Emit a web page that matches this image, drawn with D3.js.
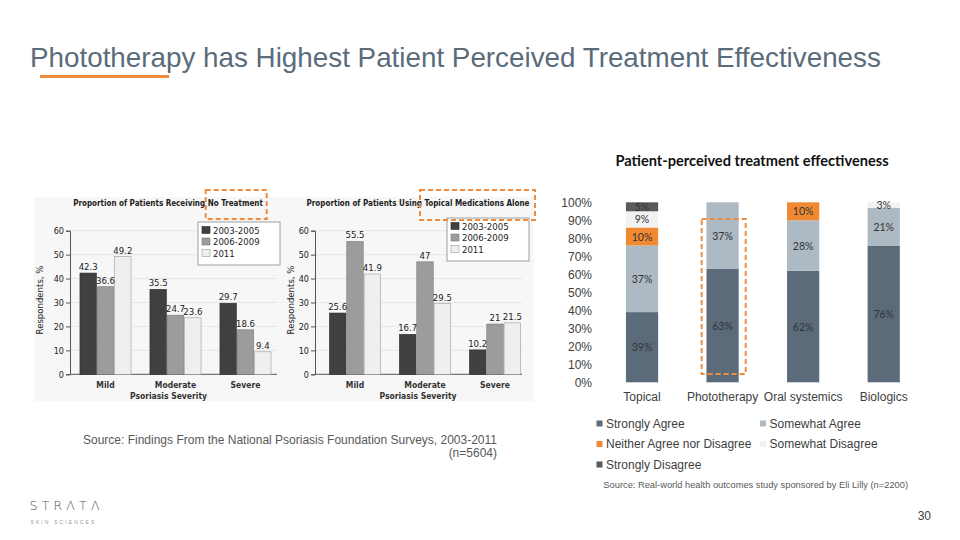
<!DOCTYPE html>
<html>
<head>
<meta charset="utf-8">
<script src="https://cdn.jsdelivr.net/npm/d3@7"></script>
<style>
  body { margin: 0; background: #fff; }
  svg { display: block; }
</style>
</head>
<body>
<svg id="slide" width="960" height="540"></svg>
<script>
// left panel data (NPF surveys)
const severities = ["Mild", "Moderate", "Severe"];
const periods = ["2003-2005", "2006-2009", "2011"];
const noTreatment = [
  [42.3, 36.6, 49.2],
  [35.5, 24.7, 23.6],
  [29.7, 18.6, 9.4]
];
const topicalAlone = [
  [25.6, 55.5, 41.9],
  [16.7, 47, 29.5],
  [10.2, 21, 21.5]
];
const leftTicks = [0, 10, 20, 30, 40, 50, 60];

// right chart data
const treatments = ["Topical", "Phototherapy", "Oral systemics", "Biologics"];
const answers = ["Strongly Agree", "Somewhat Agree", "Neither Agree nor Disagree", "Somewhat Disagree", "Strongly Disagree"];
const stronglyAgree = [0.39, 0.63, 0.62, 0.76];
const somewhatAgree = [0.37, 0.37, 0.28, 0.21];
const neither = [0.10, 0, 0.10, 0];
const somewhatDisagree = [0.09, 0, 0, 0.03];
const stronglyDisagree = [0.05, 0, 0, 0];
const pctTicks = [0, 0.1, 0.2, 0.3, 0.4, 0.5, 0.6, 0.7, 0.8, 0.9, 1];

const svg = d3.select("#slide");
const orange = "#ed8b3f";
const narrow = "'Liberation Sans Narrow', 'DejaVu Sans Condensed', 'Liberation Sans', sans-serif";
const arial = "'Liberation Sans', Arial, sans-serif";

// slide title
svg.append("text")
  .attr("x", 30).attr("y", 67)
  .attr("font-family", arial).attr("font-size", 27.8)
  .attr("fill", "#5a6b7a")
  .text("Phototherapy has Highest Patient Perceived Treatment Effectiveness");
svg.append("rect").attr("x", 40).attr("y", 75).attr("width", 129).attr("height", 3).attr("fill", orange);

// light backdrop of the two survey charts
svg.append("rect").attr("x", 34).attr("y", 197).attr("width", 500).attr("height", 204).attr("fill", "#f7f7f7");

const periodFill = d3.scaleOrdinal().domain(periods).range(["#404040", "#9c9c9c", "#efefef"]);
const periodStroke = d3.scaleOrdinal().domain(periods).range(["#2a2a2a", "#7a7a7a", "#9a9a9a"]);

function groupedChart(o) {
  const g = svg.append("g");
  const y = d3.scaleLinear().domain([0, 60]).range([374.3, 230.7]);
  const x0 = d3.scaleBand().domain(severities).range(o.range).paddingInner(0.27).paddingOuter(0.135);
  const x1 = d3.scaleBand().domain(periods).range([0, x0.bandwidth()]).paddingInner(0.05);

  // gridlines
  g.selectAll(".grid").data(leftTicks.slice(1)).join("line")
    .attr("x1", o.axisX).attr("x2", o.gridEnd)
    .attr("y1", d => y(d)).attr("y2", d => y(d))
    .attr("stroke", "#e2e2e2").attr("stroke-width", 0.8);

  const ax = g.append("g").attr("transform", `translate(${o.axisX},0)`)
    .call(d3.axisLeft(y).tickValues(leftTicks).tickSize(4).tickPadding(2));
  ax.select(".domain").attr("stroke", "#555");
  ax.selectAll(".tick line").attr("stroke", "#555");
  ax.selectAll("text").attr("font-family", narrow).attr("font-size", 9).attr("fill", "#222");

  g.append("line").attr("x1", o.axisX).attr("x2", o.gridEnd)
    .attr("y1", y(0)).attr("y2", y(0)).attr("stroke", "#555");

  const grp = g.selectAll(".grp").data(o.values).join("g")
    .attr("transform", (d, i) => `translate(${x0(severities[i])},0)`);
  grp.selectAll("rect").data(d => d.map((v, j) => ({ v, k: periods[j] }))).join("rect")
    .attr("x", d => x1(d.k)).attr("width", x1.bandwidth())
    .attr("y", d => y(d.v)).attr("height", d => y(0) - y(d.v))
    .attr("fill", d => periodFill(d.k)).attr("stroke", d => periodStroke(d.k)).attr("stroke-width", 0.6);
  grp.selectAll("text").data(d => d.map((v, j) => ({ v, k: periods[j] }))).join("text")
    .attr("x", d => x1(d.k) + x1.bandwidth() / 2).attr("y", d => y(d.v) - 3)
    .attr("text-anchor", "middle")
    .attr("font-family", narrow).attr("font-size", 9.5).attr("fill", "#222")
    .text(d => d.v);

  g.selectAll(".cat").data(severities).join("text")
    .attr("x", d => x0(d) + x0.bandwidth() / 2).attr("y", 388)
    .attr("text-anchor", "middle")
    .attr("font-family", narrow).attr("font-size", 8.5).attr("font-weight", "bold").attr("fill", "#333")
    .text(d => d);
  g.append("text")
    .attr("x", x0("Moderate") + x0.bandwidth() / 2 - 7).attr("y", 398.5)
    .attr("text-anchor", "middle")
    .attr("font-family", narrow).attr("font-size", 8.5).attr("font-weight", "bold").attr("fill", "#333")
    .text("Psoriasis Severity");
  g.append("text")
    .attr("transform", `translate(${o.labelX},300) rotate(-90)`)
    .attr("text-anchor", "middle")
    .attr("font-family", narrow).attr("font-size", 9.5).attr("fill", "#222")
    .text("Respondents, %");

  g.append("text")
    .attr("x", o.titleX).attr("y", 206)
    .attr("text-anchor", "middle")
    .attr("font-family", narrow).attr("font-size", 8).attr("font-weight", "bold").attr("fill", "#222")
    .text(o.title);

  // legend box
  const lg = g.append("g").attr("transform", `translate(${o.legend[0]},${o.legend[1]})`);
  lg.append("rect").attr("width", o.legend[2]).attr("height", 43).attr("fill", "#fff").attr("stroke", "#888").attr("stroke-width", 0.8);
  const li = lg.selectAll(".li").data(periods).join("g")
    .attr("transform", (d, i) => `translate(4,${8 + i * 11.5})`);
  li.append("rect").attr("width", 8).attr("height", 7).attr("y", -3.5)
    .attr("fill", d => periodFill(d)).attr("stroke", d => periodStroke(d)).attr("stroke-width", 0.6);
  li.append("text").attr("x", 11).attr("y", 3.5)
    .attr("font-family", narrow).attr("font-size", 9.5).attr("fill", "#222").text(d => d);

  // orange highlight
  svg.append("rect").attr("x", o.box[0]).attr("y", o.box[1]).attr("width", o.box[2]).attr("height", o.box[3])
    .attr("fill", "none").attr("stroke", orange).attr("stroke-width", 2).attr("stroke-dasharray", "5,3");
}

groupedChart({
  values: noTreatment, range: [70.5, 280.5], axisX: 70, gridEnd: 277, labelX: 43,
  title: "Proportion of Patients Receiving No Treatment", titleX: 168,
  legend: [198, 222, 82], box: [205.7, 190, 61, 29]
});
groupedChart({
  values: topicalAlone, range: [320, 530], axisX: 315, gridEnd: 522, labelX: 294,
  title: "Proportion of Patients Using Topical Medications Alone", titleX: 418,
  legend: [447, 218, 82], box: [420, 190, 115, 30]
});

svg.append("text").attr("x", 497).attr("y", 443.5).attr("text-anchor", "end")
  .attr("font-family", arial).attr("font-size", 12).attr("fill", "#595959")
  .text("Source: Findings From the National Psoriasis Foundation Surveys, 2003-2011");
svg.append("text").attr("x", 497).attr("y", 457).attr("text-anchor", "end")
  .attr("font-family", arial).attr("font-size", 12).attr("fill", "#595959")
  .text("(n=5604)");

// right stacked chart
const rows = treatments.map((t, i) => ({
  name: t,
  [answers[0]]: stronglyAgree[i],
  [answers[1]]: somewhatAgree[i],
  [answers[2]]: neither[i],
  [answers[3]]: somewhatDisagree[i],
  [answers[4]]: stronglyDisagree[i]
}));
const stacked = d3.stack().keys(answers)(rows);
const color = d3.scaleOrdinal().domain(answers).range(["#5b6b7a", "#adb9c3", "#f08a32", "#f2f2f2", "#5a5a5a"]);

const xr = d3.scaleBand().domain(treatments).range([601.75, 924]).paddingInner(0.6).paddingOuter(0.3);
const yr = d3.scaleLinear().domain([0, 1]).range([382.3, 202.3]);

svg.append("text").attr("x", 752).attr("y", 166).attr("text-anchor", "middle")
  .attr("font-family", "Lato, 'Open Sans', sans-serif").attr("font-size", 14.6).attr("font-weight", "bold").attr("fill", "#111")
  .text("Patient-perceived treatment effectiveness");

const ay = svg.append("g").attr("transform", "translate(598,0)")
  .call(d3.axisLeft(yr).tickValues(pctTicks).tickFormat(d3.format(".0%")).tickSize(0).tickPadding(6));
ay.select(".domain").remove();
ay.selectAll("text").attr("font-family", arial).attr("font-size", 12).attr("fill", "#404040");

const axb = svg.append("g").attr("transform", `translate(0,${yr(0)})`)
  .call(d3.axisBottom(xr).tickSize(0).tickPadding(10));
axb.select(".domain").remove();
axb.selectAll("text").attr("font-family", arial).attr("font-size", 12).attr("fill", "#404040");

const layer = svg.selectAll(".layer").data(stacked).join("g").attr("fill", d => color(d.key));
layer.selectAll("rect").data(d => d.map(s => ({ s, name: s.data.name }))).join("rect")
  .attr("x", d => xr(d.name)).attr("width", xr.bandwidth())
  .attr("y", d => yr(d.s[1])).attr("height", d => yr(d.s[0]) - yr(d.s[1]));
layer.selectAll("text").data(d => d.map(s => ({ s, name: s.data.name, v: s[1] - s[0] })).filter(e => e.v > 0)).join("text")
  .attr("x", d => xr(d.name) + xr.bandwidth() / 2)
  .attr("y", d => (yr(d.s[0]) + yr(d.s[1])) / 2 + 4)
  .attr("text-anchor", "middle")
  .attr("font-family", "Lato, sans-serif").attr("font-size", 10.5).attr("fill", "#333")
  .text(d => d3.format(".0%")(d.v));

svg.append("rect").attr("x", 701.7).attr("y", 219).attr("width", 44).attr("height", 155)
  .attr("fill", "none").attr("stroke", orange).attr("stroke-width", 2).attr("stroke-dasharray", "5,3");

// legend
const leg = svg.selectAll(".leg").data(answers).join("g")
  .attr("transform", (d, i) => `translate(${i % 2 ? 760 : 596.5},${423.5 + Math.floor(i / 2) * 20.5})`);
leg.append("rect").attr("y", -3).attr("width", 6).attr("height", 6).attr("fill", d => color(d));
leg.append("text").attr("x", 9.5).attr("y", 4.3)
  .attr("font-family", arial).attr("font-size", 12).attr("fill", "#404040").text(d => d);

svg.append("text").attr("x", 908).attr("y", 488).attr("text-anchor", "end")
  .attr("font-family", arial).attr("font-size", 9.3).attr("fill", "#595959")
  .text("Source:  Real-world  health outcomes study sponsored by Eli Lilly  (n=2200)");

svg.append("text").attr("x", 931).attr("y", 520).attr("text-anchor", "end")
  .attr("font-family", arial).attr("font-size", 12).attr("fill", "#404040").text("30");

// logo
svg.append("text").attr("x", 29.5).attr("y", 509.5)
  .attr("font-family", "'DejaVu Sans', sans-serif").attr("font-size", 12.5).attr("font-weight", 200)
  .attr("letter-spacing", 4.2).attr("fill", "#555")
  .text("STR\u039BT\u039B");
svg.append("text").attr("x", 30.5).attr("y", 523.5)
  .attr("font-family", arial).attr("font-size", 5).attr("letter-spacing", 2.1).attr("fill", "#9a9a9a")
  .text("SKIN SCIENCES");
</script>
</body>
</html>
